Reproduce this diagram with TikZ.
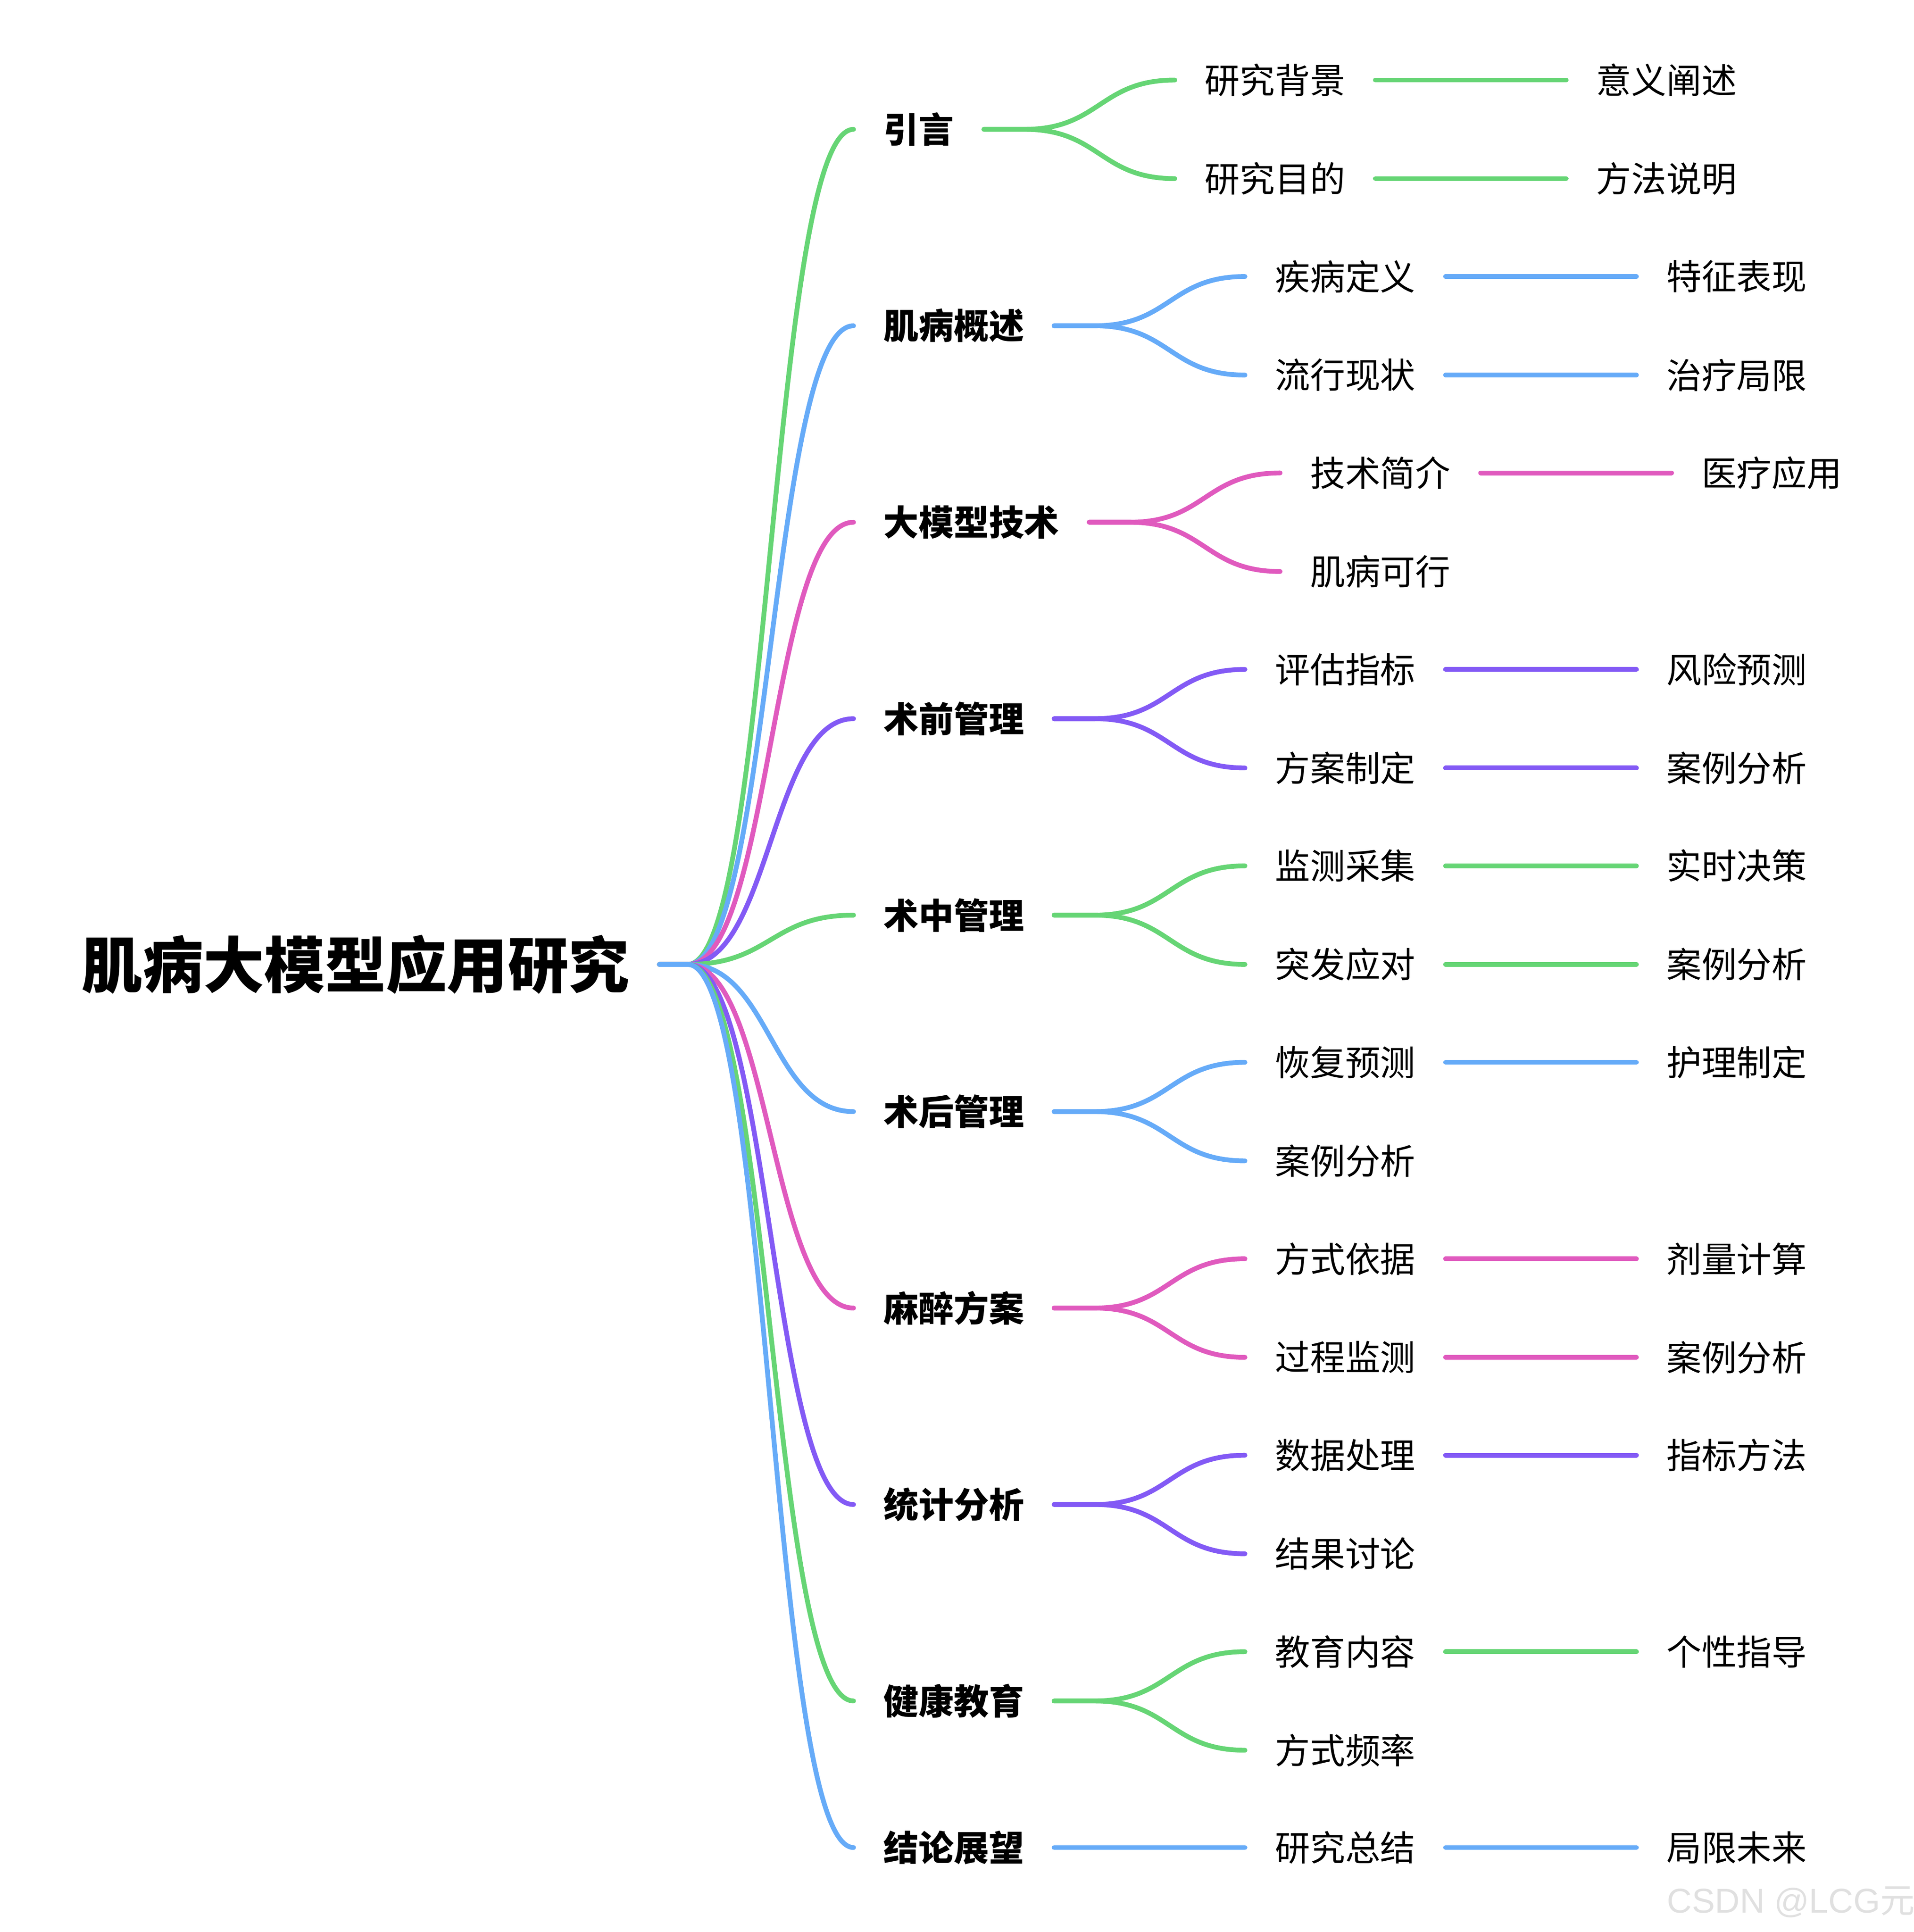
\documentclass[tikz,border=0pt]{standalone}
\usepackage{fontspec}
\setmainfont{Noto Sans CJK SC}
\newfontfamily\wmfont{Liberation Sans}
\usetikzlibrary{positioning}
\definecolor{mgreen}{HTML}{66D575}
\definecolor{mblue}{HTML}{66ABF8}
\definecolor{mpink}{HTML}{E05ABE}
\definecolor{mpurple}{HTML}{835AF5}

\begin{document}
\begin{tikzpicture}[x=0.5pt, y=-0.5pt,
  every node/.style={inner xsep=12pt, inner ysep=2pt},
  topic/.style={anchor=west, font=\fontsize{14.25}{16}\selectfont\bfseries},
  sub/.style={font=\fontsize{14.25}{16}\selectfont},
  lnk/.style={line width=1.95pt, line cap=round}]
\useasboundingbox (0,0) rectangle (1553.6,1568.6);

\node[anchor=west, font=\fontsize{24.7}{28}\selectfont\bfseries] at (42,783) (root) {肌病大模型应用研究};

% main topics
\node[topic] at (693,105) (t1) {引言};
\node[topic] at (693,264.5) (t2) {肌病概述};
\node[topic] at (693,424) (t3) {大模型技术};
\node[topic] at (693,583.5) (t4) {术前管理};
\node[topic] at (693,743) (t5) {术中管理};
\node[topic] at (693,902.5) (t6) {术后管理};
\node[topic] at (693,1062) (t7) {麻醉方案};
\node[topic] at (693,1221.5) (t8) {统计分析};
\node[topic] at (693,1381) (t9) {健康教育};
\node[topic] at (693,1500) (t10) {结论展望};

% sub topics
\node[sub, right=77.5pt of t1, yshift=20pt] (t1a) {研究背景};
\node[sub, right=77.5pt of t1, yshift=-20pt] (t1b) {研究目的};
\node[sub, right=77.5pt of t2, yshift=20pt] (t2a) {疾病定义};
\node[sub, right=77.5pt of t2, yshift=-20pt] (t2b) {流行现状};
\node[sub, right=77.5pt of t3, yshift=20pt] (t3a) {技术简介};
\node[sub, right=77.5pt of t3, yshift=-20pt] (t3b) {肌病可行};
\node[sub, right=77.5pt of t4, yshift=20pt] (t4a) {评估指标};
\node[sub, right=77.5pt of t4, yshift=-20pt] (t4b) {方案制定};
\node[sub, right=77.5pt of t5, yshift=20pt] (t5a) {监测采集};
\node[sub, right=77.5pt of t5, yshift=-20pt] (t5b) {突发应对};
\node[sub, right=77.5pt of t6, yshift=20pt] (t6a) {恢复预测};
\node[sub, right=77.5pt of t6, yshift=-20pt] (t6b) {案例分析};
\node[sub, right=77.5pt of t7, yshift=20pt] (t7a) {方式依据};
\node[sub, right=77.5pt of t7, yshift=-20pt] (t7b) {过程监测};
\node[sub, right=77.5pt of t8, yshift=20pt] (t8a) {数据处理};
\node[sub, right=77.5pt of t8, yshift=-20pt] (t8b) {结果讨论};
\node[sub, right=77.5pt of t9, yshift=20pt] (t9a) {教育内容};
\node[sub, right=77.5pt of t9, yshift=-20pt] (t9b) {方式频率};
\node[sub, right=77.5pt of t10] (t10a) {研究总结};

% leaves
\node[sub, right=77.5pt of t1a] (t1a1) {意义阐述};
\node[sub, right=77.5pt of t1b] (t1b1) {方法说明};
\node[sub, right=77.5pt of t2a] (t2a1) {特征表现};
\node[sub, right=77.5pt of t2b] (t2b1) {治疗局限};
\node[sub, right=77.5pt of t3a] (t3a1) {医疗应用};
\node[sub, right=77.5pt of t4a] (t4a1) {风险预测};
\node[sub, right=77.5pt of t4b] (t4b1) {案例分析};
\node[sub, right=77.5pt of t5a] (t5a1) {实时决策};
\node[sub, right=77.5pt of t5b] (t5b1) {案例分析};
\node[sub, right=77.5pt of t6a] (t6a1) {护理制定};
\node[sub, right=77.5pt of t7a] (t7a1) {剂量计算};
\node[sub, right=77.5pt of t7b] (t7b1) {案例分析};
\node[sub, right=77.5pt of t8a] (t8a1) {指标方法};
\node[sub, right=77.5pt of t9a] (t9a1) {个性指导};
\node[sub, right=77.5pt of t10a] (t10a1) {局限未来};

% root to topics
\draw[lnk, mgreen] (root.east) -- ++(23,0) .. controls +(67,0) and +(-67,0) .. (t1.west);
\draw[lnk, mblue] (root.east) -- ++(23,0) .. controls +(67,0) and +(-67,0) .. (t2.west);
\draw[lnk, mpink] (root.east) -- ++(23,0) .. controls +(67,0) and +(-67,0) .. (t3.west);
\draw[lnk, mpurple] (root.east) -- ++(23,0) .. controls +(67,0) and +(-67,0) .. (t4.west);
\draw[lnk, mgreen] (root.east) -- ++(23,0) .. controls +(67,0) and +(-67,0) .. (t5.west);
\draw[lnk, mblue] (root.east) -- ++(23,0) .. controls +(67,0) and +(-67,0) .. (t6.west);
\draw[lnk, mpink] (root.east) -- ++(23,0) .. controls +(67,0) and +(-67,0) .. (t7.west);
\draw[lnk, mpurple] (root.east) -- ++(23,0) .. controls +(67,0) and +(-67,0) .. (t8.west);
\draw[lnk, mgreen] (root.east) -- ++(23,0) .. controls +(67,0) and +(-67,0) .. (t9.west);
\draw[lnk, mblue] (root.east) -- ++(23,0) .. controls +(67,0) and +(-67,0) .. (t10.west);

% topics to sub topics
\draw[lnk, mgreen] (t1.east) -- ++(33,0) .. controls +(61,0) and +(-61,0) .. (t1a.west);
\draw[lnk, mgreen] (t1.east) -- ++(33,0) .. controls +(61,0) and +(-61,0) .. (t1b.west);
\draw[lnk, mblue] (t2.east) -- ++(33,0) .. controls +(61,0) and +(-61,0) .. (t2a.west);
\draw[lnk, mblue] (t2.east) -- ++(33,0) .. controls +(61,0) and +(-61,0) .. (t2b.west);
\draw[lnk, mpink] (t3.east) -- ++(33,0) .. controls +(61,0) and +(-61,0) .. (t3a.west);
\draw[lnk, mpink] (t3.east) -- ++(33,0) .. controls +(61,0) and +(-61,0) .. (t3b.west);
\draw[lnk, mpurple] (t4.east) -- ++(33,0) .. controls +(61,0) and +(-61,0) .. (t4a.west);
\draw[lnk, mpurple] (t4.east) -- ++(33,0) .. controls +(61,0) and +(-61,0) .. (t4b.west);
\draw[lnk, mgreen] (t5.east) -- ++(33,0) .. controls +(61,0) and +(-61,0) .. (t5a.west);
\draw[lnk, mgreen] (t5.east) -- ++(33,0) .. controls +(61,0) and +(-61,0) .. (t5b.west);
\draw[lnk, mblue] (t6.east) -- ++(33,0) .. controls +(61,0) and +(-61,0) .. (t6a.west);
\draw[lnk, mblue] (t6.east) -- ++(33,0) .. controls +(61,0) and +(-61,0) .. (t6b.west);
\draw[lnk, mpink] (t7.east) -- ++(33,0) .. controls +(61,0) and +(-61,0) .. (t7a.west);
\draw[lnk, mpink] (t7.east) -- ++(33,0) .. controls +(61,0) and +(-61,0) .. (t7b.west);
\draw[lnk, mpurple] (t8.east) -- ++(33,0) .. controls +(61,0) and +(-61,0) .. (t8a.west);
\draw[lnk, mpurple] (t8.east) -- ++(33,0) .. controls +(61,0) and +(-61,0) .. (t8b.west);
\draw[lnk, mgreen] (t9.east) -- ++(33,0) .. controls +(61,0) and +(-61,0) .. (t9a.west);
\draw[lnk, mgreen] (t9.east) -- ++(33,0) .. controls +(61,0) and +(-61,0) .. (t9b.west);
\draw[lnk, mblue] (t10.east) -- (t10a.west);

% sub topics to leaves
\draw[lnk, mgreen] (t1a.east) -- (t1a1.west);
\draw[lnk, mgreen] (t1b.east) -- (t1b1.west);
\draw[lnk, mblue] (t2a.east) -- (t2a1.west);
\draw[lnk, mblue] (t2b.east) -- (t2b1.west);
\draw[lnk, mpink] (t3a.east) -- (t3a1.west);
\draw[lnk, mpurple] (t4a.east) -- (t4a1.west);
\draw[lnk, mpurple] (t4b.east) -- (t4b1.west);
\draw[lnk, mgreen] (t5a.east) -- (t5a1.west);
\draw[lnk, mgreen] (t5b.east) -- (t5b1.west);
\draw[lnk, mblue] (t6a.east) -- (t6a1.west);
\draw[lnk, mpink] (t7a.east) -- (t7a1.west);
\draw[lnk, mpink] (t7b.east) -- (t7b1.west);
\draw[lnk, mpurple] (t8a.east) -- (t8a1.west);
\draw[lnk, mgreen] (t9a.east) -- (t9a1.west);
\draw[lnk, mblue] (t10a.east) -- (t10a1.west);

\node[anchor=base west, inner sep=0pt, text=black!12, font=\fontsize{14}{16}\selectfont] at (1353,1553) (wm) {{\wmfont CSDN @LCG}元};

\end{tikzpicture}
\end{document}
